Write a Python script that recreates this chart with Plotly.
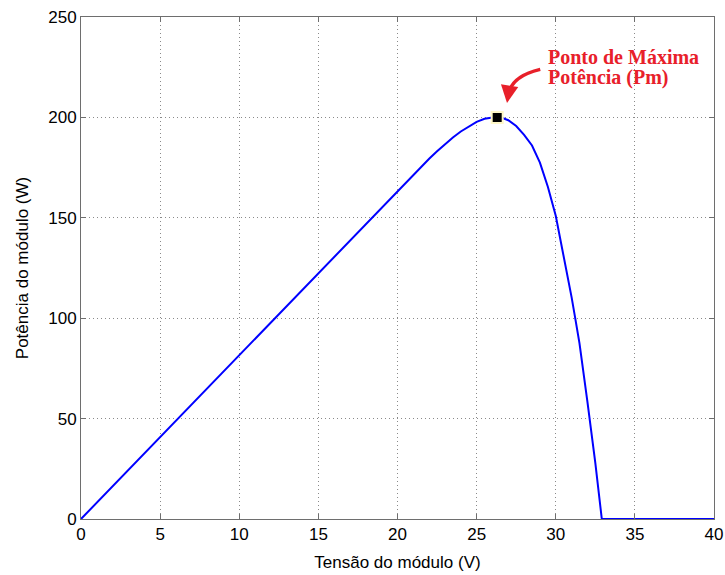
import plotly.graph_objects as go

# Data
voltage = [0, 5, 10, 15, 20, 21, 21.5, 22, 22.5, 23, 23.5, 24, 24.5, 25, 25.5, 26, 26.3,
           26.6, 27, 27.5, 28, 28.5, 29, 29.5, 30, 30.5, 31, 31.23, 31.5, 32, 32.13, 32.5,
           32.91, 36, 40]
power = [0, 40.8, 81.6, 122.5, 163.5, 171.6, 175.6, 179.4, 183.1, 186.6, 190, 193, 195.6,
         197.8, 199.3, 200, 200, 199.8, 198.6, 195.7, 191.3, 186, 177.5, 165.5, 151, 131.5,
         110.5, 100, 87.5, 58.5, 51, 28, 0, 0, 0]

pm_v = [26.3]
pm_p = [200]

x_ticks = [0, 5, 10, 15, 20, 25, 30, 35, 40]
y_ticks = [0, 50, 100, 150, 200, 250]

label_line1 = "Ponto de Máxima"
label_line2 = "Potência (Pm)"

RED = "#e8202a"

fig = go.Figure()
fig.add_trace(go.Scatter(x=voltage, y=power, mode="lines",
                         line=dict(color="#0000ff", width=2), showlegend=False))
fig.add_trace(go.Scatter(x=pm_v, y=pm_p, mode="markers",
                         marker=dict(symbol="square", size=11, color="black",
                                     line=dict(color="#fff8c8", width=2)),
                         showlegend=False))

text_font = dict(family="Liberation Serif", size=20, color=RED)
fig.add_annotation(x=29.4, y=230, xref="x", yref="y", xanchor="left", yanchor="middle",
                   showarrow=False, text="<b>" + label_line1 + "</b>", font=text_font)
fig.add_annotation(x=29.4, y=220, xref="x", yref="y", xanchor="left", yanchor="middle",
                   showarrow=False, text="<b>" + label_line2 + "</b>", font=text_font)

# curved arrow shaft
fig.add_shape(type="path", xref="x", yref="y",
              path="M 29.02,223.9 Q 27.2,220.5 27.02,211.5",
              line=dict(color=RED, width=3.5))
# arrow head
fig.add_annotation(x=26.92, y=207.2, xref="x", yref="y", ax=1.5, ay=-10,
                   text="", showarrow=True, arrowhead=2, arrowsize=1.0, arrowwidth=3.5,
                   arrowcolor=RED)

axis_common = dict(showline=True, linecolor="#6e6e6e", linewidth=1, mirror="allticks",
                   ticks="inside", ticklen=5, tickcolor="#6e6e6e",
                   showgrid=True, gridcolor="#8a8a8a", griddash="1px,3px", gridwidth=1,
                   zeroline=False, automargin=False, ticklabeloverflow="allow",
                   tickfont=dict(family="Liberation Sans", size=17, color="black"))

fig.update_xaxes(range=[0, 40], tickvals=x_ticks, ticktext=[str(v) for v in x_ticks],
                 title=dict(text="Tensão do módulo (V)", standoff=12,
                            font=dict(family="Liberation Sans", size=17, color="black")),
                 **axis_common)
fig.update_yaxes(range=[0, 250], tickvals=y_ticks, ticktext=[str(v) for v in y_ticks],
                 title=dict(text="Potência do módulo (W)", standoff=15,
                            font=dict(family="Liberation Sans", size=17, color="black")),
                 **axis_common)

fig.update_layout(width=725, height=575, plot_bgcolor="white", paper_bgcolor="white",
                  margin=dict(l=81, r=11, t=17, b=56))

# remove the default page margin so the figure fills the window exactly
fig.write_html("out.html", config={"displayModeBar": False},
               post_script="document.body.style.margin='0';")
